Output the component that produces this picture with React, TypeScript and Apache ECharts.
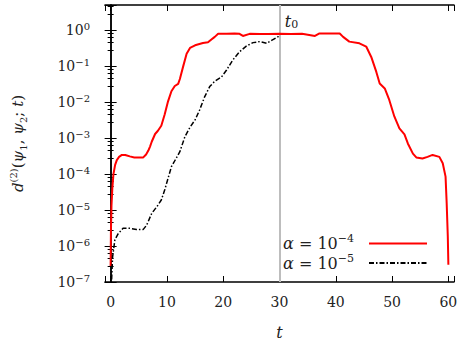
import React, { useEffect, useRef } from "react";
import * as echarts from "echarts";

// alpha = 1e-4 (red, solid)
const tRed = [0.0, 0.05, 0.15, 0.3, 0.5, 0.8, 1.1, 1.5, 2.0, 2.6, 3.4, 4.2, 5.0, 5.8, 6.3, 6.7, 7.0, 7.3, 7.9, 8.4, 9.0, 9.6, 10.2, 10.8, 11.4, 12.0, 12.3, 12.9, 13.5, 14.1, 15.0, 16.4, 17.3, 17.9, 18.5, 19.1, 20.6, 22.0, 22.9, 23.5, 24.7, 26.5, 28.0, 30.0, 32.0, 34.0, 36.3, 37.1, 39.0, 40.7, 41.3, 42.4, 44.2, 45.4, 46.3, 47.2, 47.8, 48.7, 49.5, 50.4, 51.3, 52.2, 52.8, 53.7, 54.3, 55.4, 56.3, 57.2, 58.4, 59.0, 59.5, 59.7, 59.9, 60.0];
const dRed = [2.8e-7, 2.5e-6, 1.3e-5, 4.0e-5, 1.0e-4, 1.8e-4, 2.45e-4, 3.0e-4, 3.4e-4, 3.4e-4, 3.1e-4, 2.9e-4, 2.9e-4, 2.9e-4, 3.5e-4, 4.5e-4, 5.8e-4, 7.9e-4, 1.3e-3, 1.6e-3, 2.2e-3, 4.5e-3, 1.05e-2, 2.0e-2, 2.8e-2, 3.2e-2, 4.4e-2, 0.1, 0.22, 0.32, 0.38, 0.44, 0.46, 0.55, 0.65, 0.79, 0.79, 0.81, 0.79, 0.69, 0.79, 0.78, 0.78, 0.79, 0.78, 0.79, 0.69, 0.81, 0.81, 0.81, 0.65, 0.48, 0.43, 0.35, 0.18, 0.069, 0.033, 0.024, 0.0115, 4.0e-3, 1.86e-3, 1.26e-3, 7.1e-4, 3.7e-4, 2.9e-4, 2.7e-4, 3.0e-4, 3.4e-4, 3.0e-4, 2.0e-4, 8.5e-5, 1.55e-5, 1.8e-6, 3.0e-7];

// alpha = 1e-5 (black, dash-dot), stops at t0
const tBlack = [0.1, 0.35, 0.76, 1.35, 2.2, 3.4, 4.6, 5.8, 6.4, 7.3, 8.2, 9.0, 9.6, 10.8, 11.5, 12.3, 13.2, 14.1, 15.0, 15.8, 16.7, 17.6, 18.5, 19.7, 20.6, 21.7, 22.9, 24.1, 25.3, 26.5, 27.7, 28.6, 29.7, 30.0];
const dBlack = [6.0e-8, 5.0e-7, 1.5e-6, 2.2e-6, 3.1e-6, 3.1e-6, 2.9e-6, 2.9e-6, 3.8e-6, 8.1e-6, 1.23e-5, 1.9e-5, 3.6e-5, 1.6e-4, 2.5e-4, 4.2e-4, 1.1e-3, 2.0e-3, 3.2e-3, 6.0e-3, 1.4e-2, 2.7e-2, 3.8e-2, 5.0e-2, 7.8e-2, 0.148, 0.25, 0.36, 0.45, 0.48, 0.43, 0.52, 0.65, 0.72];

const markerT = [30];
const xRange = [-1, 61];
const yRange = [1e-7, 5];
const seriesNames = ["a4", "a5"];
const legendExp = ["−4", "−5"];

const FONT = "DejaVu Serif";
const TXT = "#222";

const supRich = (size: number, supSize: number, lh: number) => ({
  b: { fontFamily: FONT, fontSize: size, color: TXT, lineHeight: lh },
  i: { fontFamily: FONT, fontSize: size, color: TXT, lineHeight: lh, fontStyle: "italic" },
  s: { fontFamily: FONT, fontSize: supSize, color: TXT, lineHeight: supSize + 1, verticalAlign: "top" },
  u: { fontFamily: FONT, fontSize: supSize, color: TXT, lineHeight: supSize + 1, verticalAlign: "bottom" },
});

export default function App() {
  const ref = useRef<HTMLDivElement>(null);
  useEffect(() => {
    if (!ref.current) return;
    const chart = echarts.init(ref.current, null, { renderer: "svg" });
    const pts = (ts: number[], vs: number[]) => ts.map((t, k) => [t, vs[k]]);
    const isPow10 = (v: number) => {
      const l = Math.log10(v);
      return Math.abs(l - Math.round(l)) < 1e-6;
    };
    chart.setOption({
      animation: false,
      textStyle: { fontFamily: FONT },
      grid: { left: 105, top: 5, right: 9, bottom: 60, containLabel: false, outerBoundsMode: "none" },
      legend: {
        orient: "vertical",
        align: "right",
        right: 35,
        top: 233,
        padding: 0,
        itemWidth: 58,
        itemHeight: 10,
        itemGap: 1,
        data: seriesNames,
        itemStyle: { color: "rgba(0,0,0,0)", borderWidth: 0, opacity: 0 },
        formatter: (name: string) => {
          const k = seriesNames.indexOf(name);
          return `{i|α}{b| = 10}{s|${legendExp[k]}}`;
        },
        textStyle: { fontFamily: FONT, padding: [0, 10, 0, 0], rich: supRich(16, 11, 21) },
      },
      xAxis: [
        {
          type: "value",
          min: xRange[0],
          max: xRange[1],
          splitNumber: 6,
          name: "t",
          nameLocation: "middle",
          nameGap: 42,
          nameTextStyle: { fontFamily: FONT, fontSize: 16, fontStyle: "italic", color: TXT },
          axisLine: { lineStyle: { color: "#000", width: 1.5 } },
          axisTick: { inside: true, length: 6, lineStyle: { color: "#000", width: 1 } },
          axisLabel: {
            margin: 13,
            fontFamily: FONT,
            fontSize: 14,
            color: TXT,
            formatter: (v: number) => (Math.abs(v % 10) < 1e-9 ? String(v) : ""),
          },
          splitLine: { show: false },
        },
        {
          type: "value",
          position: "top",
          min: xRange[0],
          max: xRange[1],
          splitNumber: 6,
          axisLine: { lineStyle: { color: "#000", width: 1.5 } },
          axisTick: { inside: true, length: 6, lineStyle: { color: "#000", width: 1 } },
          axisLabel: { show: false },
          splitLine: { show: false },
        },
      ],
      yAxis: [
        {
          type: "log",
          logBase: 10,
          min: yRange[0],
          max: yRange[1],
          name: "{i|d}{s|(2)}{b|(}{i|ψ}{u|1}{b|, }{i|ψ}{u|2}{b|; }{i|t}{b|)}",
          nameLocation: "middle",
          nameRotate: 90,
          nameGap: 77,
          nameTextStyle: { fontFamily: FONT, rich: supRich(15, 10, 20) },
          axisLine: { lineStyle: { color: "#000", width: 1.5 } },
          axisTick: { inside: true, length: 6, lineStyle: { color: "#000", width: 1 } },
          minorTick: { show: true, splitNumber: 5, length: 3, lineStyle: { color: "#000", width: 1 } },
          axisLabel: {
            margin: 15,
            fontFamily: FONT,
            formatter: (v: number) => {
              if (!isPow10(v)) return "";
              const e = Math.round(Math.log10(v));
              return `{b|10}{s|${e < 0 ? "−" + -e : e}}`;
            },
            rich: supRich(14, 10, 18),
          },
          splitLine: { show: false },
          minorSplitLine: { show: false },
        },
        {
          type: "log",
          logBase: 10,
          position: "right",
          min: yRange[0],
          max: yRange[1],
          axisLine: { lineStyle: { color: "#000", width: 1.5 } },
          axisTick: { inside: true, length: 6, lineStyle: { color: "#000", width: 1 } },
          minorTick: { show: true, splitNumber: 5, length: 3, lineStyle: { color: "#000", width: 1 } },
          axisLabel: { show: false },
          splitLine: { show: false },
        },
      ],
      series: [
        {
          name: seriesNames[0],
          type: "line",
          data: pts(tRed, dRed),
          showSymbol: false,
          symbol: "none",
          color: "#ff0000",
          lineStyle: { color: "#ff0000", width: 2 },
          z: 3,
          markLine: {
            silent: true,
            symbol: ["none", "none"],
            lineStyle: { color: "#bdbdbd", width: 2, type: "solid" },
            label: {
              show: true,
              position: "end",
              offset: [12, 30],
              fontFamily: FONT,
              formatter: "{i|t}{u|0}",
              rich: supRich(16, 11, 18),
            },
            data: markerT.map((t) => ({ xAxis: t })),
            z: 1,
          },
        },
        {
          name: seriesNames[1],
          type: "line",
          data: pts(tBlack, dBlack),
          showSymbol: false,
          symbol: "none",
          color: "#000",
          lineStyle: { color: "#000", width: 1.5, type: [5, 2, 1.5, 2] },
          z: 4,
        },
      ],
    });
    return () => chart.dispose();
  }, []);
  return (
    <div
      ref={ref}
      style={{ position: "absolute", left: 0, top: 0, width: 463, height: 342, background: "#fff" }}
    />
  );
}
